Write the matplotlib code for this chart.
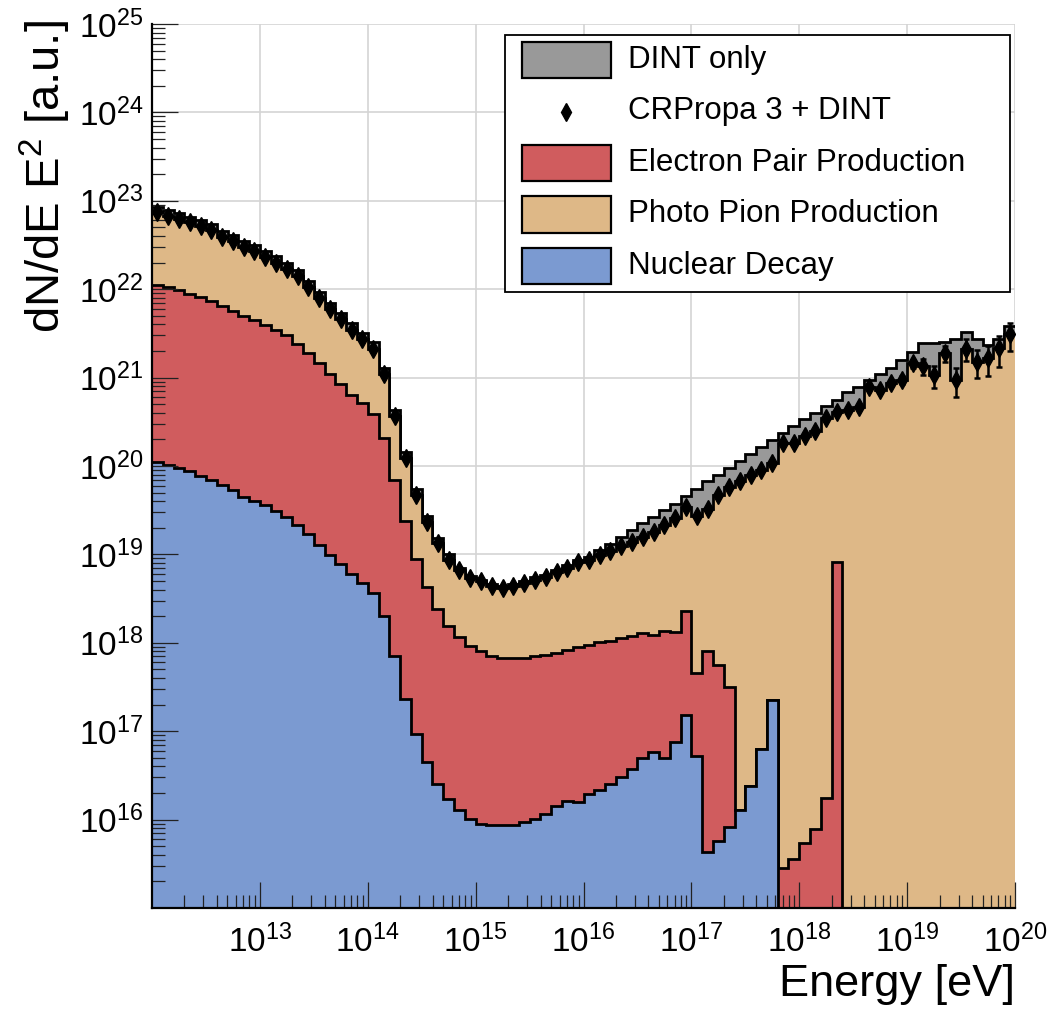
import numpy as np
import matplotlib
matplotlib.use('Agg')
import matplotlib.pyplot as plt
from matplotlib.patches import Rectangle
from matplotlib.lines import Line2D
from matplotlib.ticker import LogLocator, FixedLocator, LogFormatterSciNotation, NullFormatter

# Шрифты (похоже на Helvetica из ROOT)
plt.rcParams['font.family'] = ['Liberation Sans', 'DejaVu Sans']
plt.rcParams['mathtext.fontset'] = 'custom'
plt.rcParams['mathtext.rm'] = 'Liberation Sans'
plt.rcParams['mathtext.it'] = 'Liberation Sans:italic'
plt.rcParams['mathtext.bf'] = 'Liberation Sans:bold'

# Границы бинов по энергии, эВ (10 бинов на декаду)
edges = np.logspace(12, 20, 81)

# DINT only
dint_only = np.array([
    8.6e22, 7.8e22, 7.2e22, 6.6e22, 6.1e22, 5.5e22, 4.6e22, 4.1e22, 3.5e22, 3.2e22,
    2.7e22, 2.35e22, 2.0e22, 1.65e22, 1.25e22, 9.2e21, 7.0e21, 5.4e21, 4.1e21, 3.2e21,
    2.5e21, 1.3e21, 4.3e20, 1.45e20, 5.5e19, 2.7e19, 1.55e19, 1.0e19, 7.0e18, 5.7e18,
    5.2e18, 4.6e18, 4.4e18, 4.6e18, 4.95e18, 5.5e18, 5.9e18, 6.7e18, 7.5e18, 8.6e18,
    9.4e18, 1.12e19, 1.32e19, 1.58e19, 1.9e19, 2.26e19, 2.65e19, 3.2e19, 3.75e19, 4.6e19,
    5.5e19, 6.7e19, 8.0e19, 9.5e19, 1.13e20, 1.38e20, 1.66e20, 1.98e20, 2.36e20, 2.8e20,
    3.4e20, 4.0e20, 4.8e20, 5.6e20, 6.8e20, 7.9e20, 9.4e20, 1.1e21, 1.28e21, 1.59e21,
    1.97e21, 2.45e21, 2.45e21, 2.5e21, 2.72e21, 3.27e21, 2.72e21, 2.35e21, 2.72e21, 3.8e21])

# CRPropa 3 + DINT (это же верх стека)
crpropa_dint = np.array([
    7.4e22, 6.7e22, 6.2e22, 5.7e22, 5.2e22, 4.7e22, 3.9e22, 3.5e22, 3.0e22, 2.7e22,
    2.3e22, 2.0e22, 1.7e22, 1.4e22, 1.05e22, 7.9e21, 6.0e21, 4.6e21, 3.5e21, 2.7e21,
    2.1e21, 1.1e21, 3.7e20, 1.23e20, 4.7e19, 2.3e19, 1.34e19, 8.7e18, 6.6e18, 5.4e18,
    4.95e18, 4.35e18, 4.2e18, 4.35e18, 4.7e18, 5.2e18, 5.6e18, 6.3e18, 7.0e18, 8.1e18,
    8.7e18, 9.9e18, 1.1e19, 1.26e19, 1.38e19, 1.58e19, 1.78e19, 2.15e19, 2.6e19, 3.45e19,
    2.75e19, 3.25e19, 4.7e19, 5.75e19, 6.7e19, 8.0e19, 9.1e19, 1.08e20, 1.8e20, 1.8e20,
    2.2e20, 2.5e20, 3.5e20, 4.1e20, 4.3e20, 4.7e20, 7.8e20, 7.2e20, 8.7e20, 9.4e20,
    1.45e21, 1.34e21, 1.06e21, 1.9e21, 9.4e20, 2.13e21, 1.52e21, 1.66e21, 2.15e21, 3.1e21])

crpropa_err = np.array([
    0, 0, 0, 0, 0, 0, 0, 0, 0, 0,
    0, 0, 0, 0, 0, 0, 0, 0, 0, 0,
    0, 0, 0, 0, 0, 0, 0, 0, 0, 0,
    0, 0, 0, 0, 0, 0, 0, 0, 0, 0,
    0, 0, 0, 0, 0, 0, 0, 0, 0, 0,
    0, 0, 0, 0, 0, 0, 0, 0, 0, 0,
    0, 0, 0, 0, 0, 0, 4e19, 5e19, 7e19, 9e19,
    1.5e20, 2.7e20, 2.9e20, 3.8e20, 3.3e20, 5.7e20, 5.3e20, 6.3e20, 8.4e20, 1.1e21])

# Верх слоя Electron Pair Production (pair + nuclear decay)
pair_level = np.array([
    1.12e22, 1.05e22, 9.8e21, 8.9e21, 8.1e21, 7.4e21, 6.5e21, 5.6e21, 5.0e21, 4.5e21,
    3.9e21, 3.45e21, 3.0e21, 2.4e21, 1.9e21, 1.47e21, 1.09e21, 8.5e20, 6.4e20, 5.1e20,
    3.9e20, 2.1e20, 7.0e19, 2.36e19, 8.9e18, 4.3e18, 2.4e18, 1.56e18, 1.16e18, 9.3e17,
    8.0e17, 7.0e17, 6.7e17, 6.7e17, 6.7e17, 7.0e17, 7.3e17, 7.7e17, 8.2e17, 8.9e17,
    9.5e17, 1.01e18, 1.05e18, 1.12e18, 1.2e18, 1.3e18, 1.24e18, 1.35e18, 1.31e18, 2.3e18,
    4.5e17, 8.1e17, 5.6e17, 3.2e17, 1.3e16, 2.4e16, 6.3e16, 2.24e17, 2.85e15, 3.6e15,
    5.5e15, 7.9e15, 1.76e16, 8.3e18, 0, 0, 0, 0, 0, 0,
    0, 0, 0, 0, 0, 0, 0, 0, 0, 0])

# Nuclear Decay
nuclear_decay = np.array([
    1.12e20, 1.03e20, 9.5e19, 8.7e19, 7.8e19, 6.9e19, 6.1e19, 5.3e19, 4.5e19, 4.0e19,
    3.6e19, 3.1e19, 2.65e19, 2.13e19, 1.7e19, 1.29e19, 9.9e18, 7.7e18, 6.0e18, 4.75e18,
    3.7e18, 2.0e18, 7.0e17, 2.3e17, 9.2e16, 4.5e16, 2.56e16, 1.69e16, 1.28e16, 1.02e16,
    9.0e15, 8.6e15, 8.6e15, 8.6e15, 9.3e15, 1.02e16, 1.17e16, 1.42e16, 1.61e16, 1.57e16,
    1.97e16, 2.18e16, 2.5e16, 3.0e16, 3.75e16, 5.0e16, 5.8e16, 5.0e16, 7.6e16, 1.54e17,
    5.2e16, 4.3e15, 5.7e15, 8.3e15, 1.3e16, 2.4e16, 6.3e16, 2.24e17, 0, 0,
    0, 0, 0, 0, 0, 0, 0, 0, 0, 0,
    0, 0, 0, 0, 0, 0, 0, 0, 0, 0])

labels = ['DINT only', 'CRPropa 3 + DINT', 'Electron Pair Production',
          'Photo Pion Production', 'Nuclear Decay']
c_grey = '#999999'
c_red = '#D05C5E'
c_tan = '#DEB887'
c_blue = '#7B9AD1'

W, H = 1048, 1010
fig = plt.figure(figsize=(W / 100, H / 100), dpi=100)
ax = fig.add_axes([152 / W, 1 - 908 / H, (1015 - 152) / W, (908 - 24) / H])
ax.set_xscale('log')
ax.set_yscale('log')
ax.set_xlim(1e12, 1e20)
ax.set_ylim(1e15, 1e25)

xt = 10.0 ** np.arange(13, 21)
yt = 10.0 ** np.arange(16, 26)

# сетка под гистограммами
for v in xt:
    ax.axvline(v, color='#d4d4d4', lw=1.2, zorder=0.3)
for v in yt:
    ax.axhline(v, color='#d4d4d4', lw=1.2, zorder=0.3)


def draw_layer(level, color, z):
    lv = np.where(level > 0, level, 1e10)
    ax.stairs(lv, edges, baseline=1e10, fill=True, color=color, lw=0, zorder=z)
    ax.stairs(lv, edges, baseline=None, color='black', lw=2, zorder=z + 0.05)


# как в THStack: сначала верхние слои, потом нижние
draw_layer(dint_only, c_grey, 1.0)
draw_layer(crpropa_dint, c_tan, 1.1)
draw_layer(pair_level, c_red, 1.2)
draw_layer(nuclear_decay, c_blue, 1.3)

centers = np.sqrt(edges[:-1] * edges[1:])
m = crpropa_err > 0
ax.errorbar(centers[m], crpropa_dint[m], yerr=crpropa_err[m], fmt='none',
            ecolor='black', elinewidth=1.8, capsize=2.5, capthick=1.8, zorder=3)
ax.plot(centers, crpropa_dint, 'd', color='black', ms=9, zorder=3.1)

# оси
ax.xaxis.set_major_locator(FixedLocator(xt))
ax.yaxis.set_major_locator(FixedLocator(yt))
ax.xaxis.set_minor_locator(LogLocator(base=10, subs=np.arange(2, 10), numticks=100))
ax.yaxis.set_minor_locator(LogLocator(base=10, subs=np.arange(2, 10), numticks=100))
ax.xaxis.set_major_formatter(LogFormatterSciNotation())
ax.yaxis.set_major_formatter(LogFormatterSciNotation())
ax.xaxis.set_minor_formatter(NullFormatter())
ax.yaxis.set_minor_formatter(NullFormatter())
ax.tick_params(which='both', direction='in', color='#222222', width=0.9,
               top=False, right=False, labelsize=24)
ax.tick_params(which='major', length=19)
ax.tick_params(which='minor', length=9.5)
ax.tick_params(axis='x', pad=12)
ax.tick_params(axis='y', pad=6)
ax.spines['top'].set_visible(False)
ax.spines['right'].set_visible(False)
ax.spines['left'].set_linewidth(1.6)
ax.spines['bottom'].set_linewidth(1.6)
ax.spines['left'].set_zorder(2.6)
ax.spines['bottom'].set_zorder(2.6)

fig.text(45 / W, 1 - 20 / H, 'dN/dE E$^{2}$ [a.u.]', rotation=90,
         ha='center', va='top', fontsize=34)
fig.text(1015 / W, 1 - 996 / H, 'Energy [eV]', ha='right', va='baseline', fontsize=32.5)

# легенда вручную
def fx(px):
    return px / W


def fy(py):
    return 1 - py / H


fig.add_artist(Rectangle((fx(505), fy(292)), fx(1010) - fx(505), fy(35) - fy(292),
                         transform=fig.transFigure, facecolor='white',
                         edgecolor='black', lw=1.3, zorder=5))
rows = [60, 111.5, 163, 214.5, 266]
sw = [c_grey, None, c_red, c_tan, c_blue]
for r, col, lab in zip(rows, sw, labels):
    if col is None:
        fig.add_artist(Line2D([fx(566)], [fy(r)], marker='d', color='black', ms=9,
                              transform=fig.transFigure, zorder=6))
    else:
        fig.add_artist(Rectangle((fx(522), fy(r + 18)), fx(611) - fx(522), fy(r - 18) - fy(r + 18),
                                 transform=fig.transFigure, facecolor=col,
                                 edgecolor='black', lw=1.6, zorder=6))
    fig.text(fx(628), fy(r), lab, ha='left', va='center', fontsize=22.5, zorder=6)

fig.savefig('out.png', dpi=100)
